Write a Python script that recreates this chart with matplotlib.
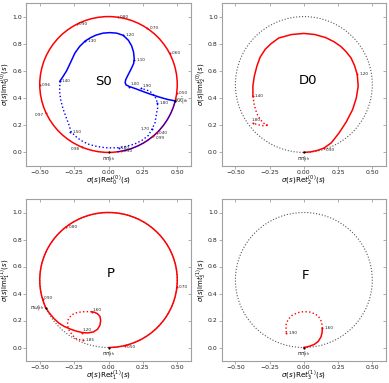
import numpy as np
import matplotlib
matplotlib.use("Agg")
import matplotlib.pyplot as plt
from matplotlib.patches import Circle, Arc

# ---------------- data ----------------
# S0 wave: inelastic part (solid blue, KK threshold -> 1.40 GeV)
s0_solid_re = [0.481, 0.43, 0.387, 0.33, 0.265, 0.20, 0.152, 0.128, 0.121, 0.125, 0.142, 0.165,
               0.183, 0.187, 0.182, 0.168, 0.145, 0.107, 0.06, 0.01, -0.04, -0.09, -0.13, -0.17,
               -0.21, -0.245, -0.277, -0.305, -0.33, -0.353]
s0_solid_im = [0.380, 0.390, 0.402, 0.420, 0.443, 0.468, 0.485, 0.497, 0.513, 0.535, 0.570, 0.615,
               0.655, 0.690, 0.740, 0.785, 0.825, 0.862, 0.878, 0.882, 0.878, 0.864, 0.845, 0.820,
               0.780, 0.730, 0.660, 0.600, 0.560, 0.525]
# S0 wave: dotted blue (1.40 -> 1.90 GeV)
s0_dot_re = [-0.353, -0.356, -0.348, -0.332, -0.311, -0.29, -0.272, -0.235, -0.2, -0.15, -0.103,
             -0.05, 0.0, 0.074, 0.13, 0.191, 0.245, 0.29, 0.315, 0.338, 0.35, 0.358, 0.356, 0.338,
             0.301, 0.265, 0.235]
s0_dot_im = [0.525, 0.45, 0.39, 0.325, 0.266, 0.21, 0.152, 0.115, 0.088, 0.062, 0.048, 0.038,
             0.033, 0.035, 0.045, 0.062, 0.09, 0.125, 0.17, 0.217, 0.291, 0.33, 0.365, 0.414,
             0.451, 0.463, 0.471]
s0_red_E = ['0.30', '0.40', '0.50', '0.60', '0.70', '0.80', '0.90', '0.96', '0.97', '0.98', '0.99']
s0_red_re = [0.094, 0.35, 0.495, 0.444, 0.282, 0.069, -0.23, -0.5, -0.454, -0.19, 0.325]
s0_red_im = [0.009, 0.143, 0.434, 0.730, 0.913, 0.995, 0.944, 0.495, 0.290, 0.037, 0.120]
s0_blue_E = ['1.00', '1.10', '1.20', '1.30', '1.40', '1.50', '1.60', '1.70', '1.80', '1.90']
s0_blue_re = [0.152, 0.187, 0.107, -0.17, -0.353, -0.277, 0.074, 0.315, 0.356, 0.235]
s0_blue_im = [0.485, 0.678, 0.862, 0.820, 0.525, 0.152, 0.035, 0.17, 0.365, 0.471]
s0_blue_arc_deg = [-83.0, -13.6]        # blue overlaid on the unitarity circle
s0_kk_th = (0.481, 0.380)

# D0 wave
d0_solid_re = [0.0, 0.05, 0.10, 0.147, 0.20, 0.257, 0.31, 0.356, 0.383, 0.397, 0.39, 0.37,
               0.345, 0.31, 0.27, 0.22, 0.16, 0.08, 0.0, -0.09, -0.184, -0.24, -0.282, -0.32,
               -0.343, -0.362, -0.372, -0.372]
d0_solid_im = [0.0, 0.004, 0.015, 0.032, 0.07, 0.143, 0.225, 0.315, 0.40, 0.488, 0.574, 0.64,
               0.695, 0.74, 0.78, 0.815, 0.845, 0.868, 0.876, 0.868, 0.842, 0.80, 0.759, 0.70,
               0.635, 0.56, 0.49, 0.414]
d0_dot_re = [-0.372, -0.362, -0.345, -0.318, -0.282, -0.257, -0.30, -0.34, -0.375]
d0_dot_im = [0.414, 0.35, 0.29, 0.241, 0.205, 0.20, 0.197, 0.205, 0.217]
d0_E = ['0.90', '1.20', '1.40', '1.80']
d0_re = [0.147, 0.39, -0.372, -0.375]
d0_im = [0.032, 0.574, 0.414, 0.217]

# P wave
p_elastic_arc_deg = [-90.0, 204.0]
p_solid_re = [-0.458, -0.43, -0.397, -0.36, -0.32, -0.274, -0.23, -0.193, -0.15, -0.11, -0.08,
              -0.062, -0.057, -0.062, -0.08, -0.10, -0.122]
p_solid_im = [0.296, 0.255, 0.215, 0.18, 0.155, 0.135, 0.12, 0.111, 0.108, 0.115, 0.135, 0.165,
              0.20, 0.23, 0.25, 0.26, 0.265]
p_dot_re = [-0.122, -0.17, -0.227, -0.265, -0.29, -0.298, -0.295, -0.287, -0.265, -0.24, -0.21,
            -0.182]
p_dot_im = [0.265, 0.266, 0.26, 0.243, 0.215, 0.19, 0.155, 0.128, 0.095, 0.067, 0.058, 0.059]
p_E = ['0.50', '0.70', '0.80', '0.90', '1.20', '1.60', '1.85']
p_re = [0.118, 0.497, -0.306, -0.48, -0.193, -0.122, -0.182]
p_im = [0.014, 0.449, 0.895, 0.358, 0.111, 0.265, 0.059]
p_ow_th = (-0.458, 0.296)

# F wave
f_solid_re = [0.0, 0.037, 0.075, 0.105, 0.125, 0.133, 0.135]
f_solid_im = [0.0, 0.008, 0.022, 0.045, 0.078, 0.11, 0.141]
f_dot_re = [0.135, 0.13, 0.11, 0.086, 0.045, 0.0, -0.045, -0.085, -0.112, -0.129, -0.13, -0.127]
f_dot_im = [0.141, 0.19, 0.225, 0.247, 0.262, 0.266, 0.258, 0.239, 0.21, 0.178, 0.14, 0.104]
f_E = ['1.60', '1.90']
f_re = [0.135, -0.127]
f_im = [0.141, 0.104]

xticks = [-0.5, -0.25, 0.0, 0.25, 0.5]
yticks = [0.0, 0.2, 0.4, 0.6, 0.8, 1.0]

# ---------------- styling helpers ----------------
SPINE = '#a0a0a0'
LBL_FS = 3.0


def setup(ax, sub):
    ax.set_xlim(-0.6, 0.6)
    ax.set_ylim(-0.1, 1.1)
    ax.set_xticks(xticks)
    ax.set_xticklabels(['%.2f' % v if v >= 0 else '\u2212%.2f' % -v for v in xticks])
    ax.set_yticks(yticks)
    ax.set_yticklabels(['%.1f' % v for v in yticks])
    ax.tick_params(direction='out', length=2.3, width=0.6, color=SPINE,
                   labelsize=4.4, pad=0.6, labelcolor='#222222')
    for s in ax.spines.values():
        s.set_color(SPINE)
        s.set_linewidth(0.8)
    sx = ax.secondary_xaxis('top')
    sx.set_xticks(xticks)
    sx.tick_params(direction='in', length=2.5, width=0.6, color=SPINE,
                   labeltop=False, labelbottom=False)
    sx.spines['top'].set_visible(False)
    sy = ax.secondary_yaxis('right')
    sy.set_yticks(yticks)
    sy.tick_params(direction='in', length=2.5, width=0.6, color=SPINE,
                   labelright=False, labelleft=False)
    sy.spines['right'].set_visible(False)
    ax.set_xlabel(r'$\sigma(s)\mathrm{Re}t_{%s}(s)$' % sub, fontsize=5.2)
    ax.set_ylabel(r'$\sigma(s)\mathrm{Im}t_{%s}(s)$' % sub, fontsize=5.0)
    ax.xaxis.set_label_coords(0.5, -0.05)
    ax.yaxis.set_label_coords(-0.076, 0.5)


def ucircle(ax, color='#555555', ls=':', lw=0.8):
    ax.add_patch(Circle((0, 0.5), 0.5, fill=False, edgecolor=color, ls=ls, lw=lw, zorder=1))


def label(ax, txt, x, y, color, off=(1.5, 0), ha='left', va='center'):
    ax.plot([x], [y], 'o', ms=1.4, color=color, mec='none', zorder=5)
    ax.annotate(txt, (x, y), xytext=off, textcoords='offset points',
                fontsize=LBL_FS, ha=ha, va=va, color='#222222', zorder=6)


def thresh(ax, txt, x, y, off, ha='left', va='center'):
    ax.plot([x], [y], 'o', ms=1.6, color='black', mec='none', zorder=6)
    ax.annotate(txt, (x, y), xytext=off, textcoords='offset points',
                fontsize=3.6, ha=ha, va=va, color='#222222', zorder=6)


fig = plt.figure(figsize=(3.89, 3.83), dpi=100)
W, H = 389.0, 383.0
ax1 = fig.add_axes([26 / W, 1 - 166 / H, 165 / W, 163 / H])
ax2 = fig.add_axes([221.7 / W, 1 - 166 / H, 164.3 / W, 163 / H])
ax3 = fig.add_axes([26 / W, 1 - 361 / H, 165 / W, 162 / H])
ax4 = fig.add_axes([221.7 / W, 1 - 361 / H, 164.3 / W, 162 / H])

# ---- S0 ----
setup(ax1, '0}^{(0)')
ucircle(ax1, color='red', ls='-', lw=1.1)
ax1.add_patch(Arc((0, 0.5), 1, 1, theta1=s0_blue_arc_deg[0], theta2=s0_blue_arc_deg[1],
                  color='blue', lw=0.7, zorder=3))
ax1.plot(s0_solid_re, s0_solid_im, '-', color='blue', lw=1.1, zorder=3)
ax1.plot(s0_dot_re, s0_dot_im, ':', color='blue', lw=1.0, zorder=3)
s0_off = {'0.97': ((-1.5, -1.5), 'right'), '0.98': ((-1.5, -1.5), 'right'),
          '0.99': ((1.5, -1.5), 'left'), '1.70': ((-1.5, 0.5), 'right'),
          '1.00': ((1.0, 1.5), 'left'), '1.90': ((1.0, 1.5), 'left')}
for e, x, y in zip(s0_red_E, s0_red_re, s0_red_im):
    o, ha = s0_off.get(e, ((1.5, 0), 'left'))
    label(ax1, e, x, y, 'red', o, ha)
for e, x, y in zip(s0_blue_E, s0_blue_re, s0_blue_im):
    o, ha = s0_off.get(e, ((1.5, 0), 'left'))
    label(ax1, e, x, y, 'blue', o, ha)
thresh(ax1, r'$K\bar{K}|_{th}$', s0_kk_th[0], s0_kk_th[1], (0.5, 0))
thresh(ax1, r'$\pi\pi|_{th}$', 0.0, 0.0, (0, -1.2), ha='center', va='top')
ax1.text(-0.04, 0.52, 'S0', fontsize=9.5, ha='center', va='center')

# ---- D0 ----
setup(ax2, '2}^{(0)')
ucircle(ax2)
ax2.plot(d0_solid_re, d0_solid_im, '-', color='red', lw=1.1, zorder=3)
ax2.plot(d0_dot_re, d0_dot_im, ':', color='red', lw=1.0, zorder=3)
d0_off = {'0.90': ((1.5, -1.5), 'left'), '1.80': ((-1.0, 1.8), 'left')}
for e, x, y in zip(d0_E, d0_re, d0_im):
    o, ha = d0_off.get(e, ((1.5, 0), 'left'))
    label(ax2, e, x, y, 'red', o, ha)
thresh(ax2, r'$\pi\pi|_{th}$', 0.0, 0.0, (0, -1.2), ha='center', va='top')
ax2.text(0.027, 0.533, 'D0', fontsize=9.5, ha='center', va='center')

# ---- P ----
setup(ax3, '1}^{(1)')
ucircle(ax3)
ax3.add_patch(Arc((0, 0.5), 1, 1, theta1=p_elastic_arc_deg[0], theta2=p_elastic_arc_deg[1],
                  color='red', lw=1.1, zorder=3))
ax3.plot(p_solid_re, p_solid_im, '-', color='red', lw=1.1, zorder=3)
ax3.plot(p_dot_re, p_dot_im, ':', color='red', lw=1.0, zorder=3)
p_off = {'0.50': ((1.5, -1.0), 'left'), '1.20': ((0.5, 1.5), 'left'),
         '1.60': ((0.5, 1.5), 'left'), '0.90': ((1.0, 0.8), 'left')}
for e, x, y in zip(p_E, p_re, p_im):
    o, ha = p_off.get(e, ((1.5, 0), 'left'))
    label(ax3, e, x, y, 'red', o, ha)
thresh(ax3, r'$\pi\omega|_{th}$', p_ow_th[0], p_ow_th[1], (-1.0, 0), ha='right')
thresh(ax3, r'$\pi\pi|_{th}$', 0.0, 0.0, (0, -1.2), ha='center', va='top')
ax3.text(0.017, 0.548, 'P', fontsize=9.5, ha='center', va='center')

# ---- F ----
setup(ax4, '3}^{(1)')
ucircle(ax4)
ax4.plot(f_solid_re, f_solid_im, '-', color='red', lw=1.1, zorder=3)
ax4.plot(f_dot_re, f_dot_im, ':', color='red', lw=1.0, zorder=3)
for e, x, y in zip(f_E, f_re, f_im):
    label(ax4, e, x, y, 'red')
thresh(ax4, r'$\pi\pi|_{th}$', 0.0, 0.0, (0, -1.2), ha='center', va='top')
ax4.text(0.012, 0.535, 'F', fontsize=9.5, ha='center', va='center')

fig.savefig('out.png', dpi=100)
